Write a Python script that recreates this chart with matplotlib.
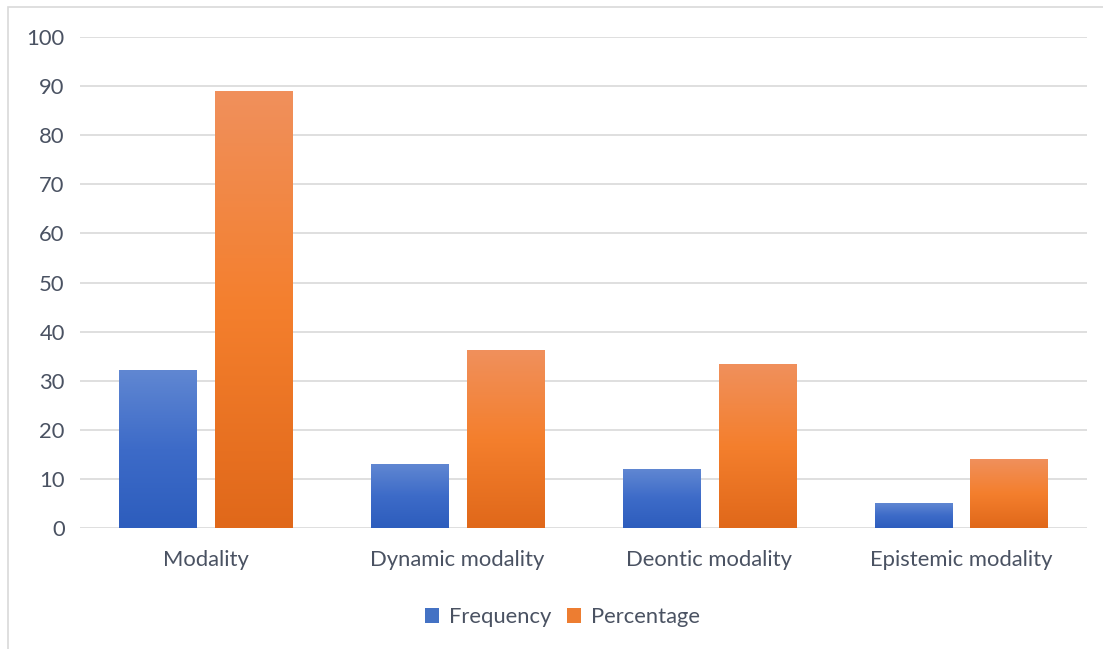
import numpy as np
import matplotlib
matplotlib.use('Agg')
import matplotlib.pyplot as plt
from matplotlib.colors import LinearSegmentedColormap
from matplotlib.patches import Rectangle

#Chart data
categories = ['Modality', 'Dynamic modality', 'Deontic modality', 'Epistemic modality']
frequency = [32, 13, 12, 5]
percentage = [88.9, 36.1, 33.3, 13.9]
yticks = [0, 10, 20, 30, 40, 50, 60, 70, 80, 90, 100]

plt.rcParams['font.family'] = ['Lato', 'DejaVu Sans']
text_color = '#4a5262'

#Gradient colour maps (bottom -> top)
blue_cmap = LinearSegmentedColormap.from_list('blue', ['#2d5dbd', '#3d6bc8', '#6087d2'])
orange_cmap = LinearSegmentedColormap.from_list('orange', ['#e0681a', '#f47f2d', '#f0905c'])

fig = plt.figure(figsize=(11.03, 6.49), dpi=100)
ax = fig.add_axes([0.0725, 0.1864, 0.913, 0.7566])

#Outer chart border
fig.patches.append(Rectangle((8 / 1103, -0.01), 1.02, 1 - 7 / 649 + 0.01,
                             transform=fig.transFigure, fill=False,
                             edgecolor='#d9d9d9', linewidth=1.2))

x = np.arange(len(categories))
width = 0.306
offset = 0.19

bars_f = ax.bar(x - offset, frequency, width, color='#4472c4', label='Frequency', zorder=2)
bars_p = ax.bar(x + offset, percentage, width, color='#ed7d31', label='Percentage', zorder=2)

#Fill each bar with a vertical gradient
grad = np.linspace(0, 1, 256).reshape(-1, 1)
for bars, cmap in [(bars_f, blue_cmap), (bars_p, orange_cmap)]:
    for b in bars:
        x0, y0 = b.get_x(), b.get_y()
        w, h = b.get_width(), b.get_height()
        ax.imshow(grad, cmap=cmap, origin='lower', aspect='auto',
                  extent=[x0, x0 + w, y0, y0 + h], zorder=3)

ax.set_xlim(-0.5, len(categories) - 0.5)
ax.set_ylim(0, 100)
ax.set_yticks(yticks)
ax.set_xticks(x)
ax.set_xticklabels(categories)

ax.grid(axis='y', color='#d9d9d9', linewidth=1.2, zorder=0)
ax.set_axisbelow(True)
for s in ax.spines.values():
    s.set_visible(False)
ax.tick_params(axis='both', length=0, labelsize=15.8, colors=text_color)
ax.tick_params(axis='x', pad=16)
ax.tick_params(axis='y', pad=11)

leg = fig.legend(handles=[bars_f, bars_p], loc='center', bbox_to_anchor=(0.51, 1 - 617 / 649),
                 ncol=2, frameon=False, fontsize=15.8, handlelength=0.65, handleheight=0.65,
                 handletextpad=0.45, columnspacing=0.7)
for t in leg.get_texts():
    t.set_color(text_color)

fig.savefig('out.png', dpi=100)
